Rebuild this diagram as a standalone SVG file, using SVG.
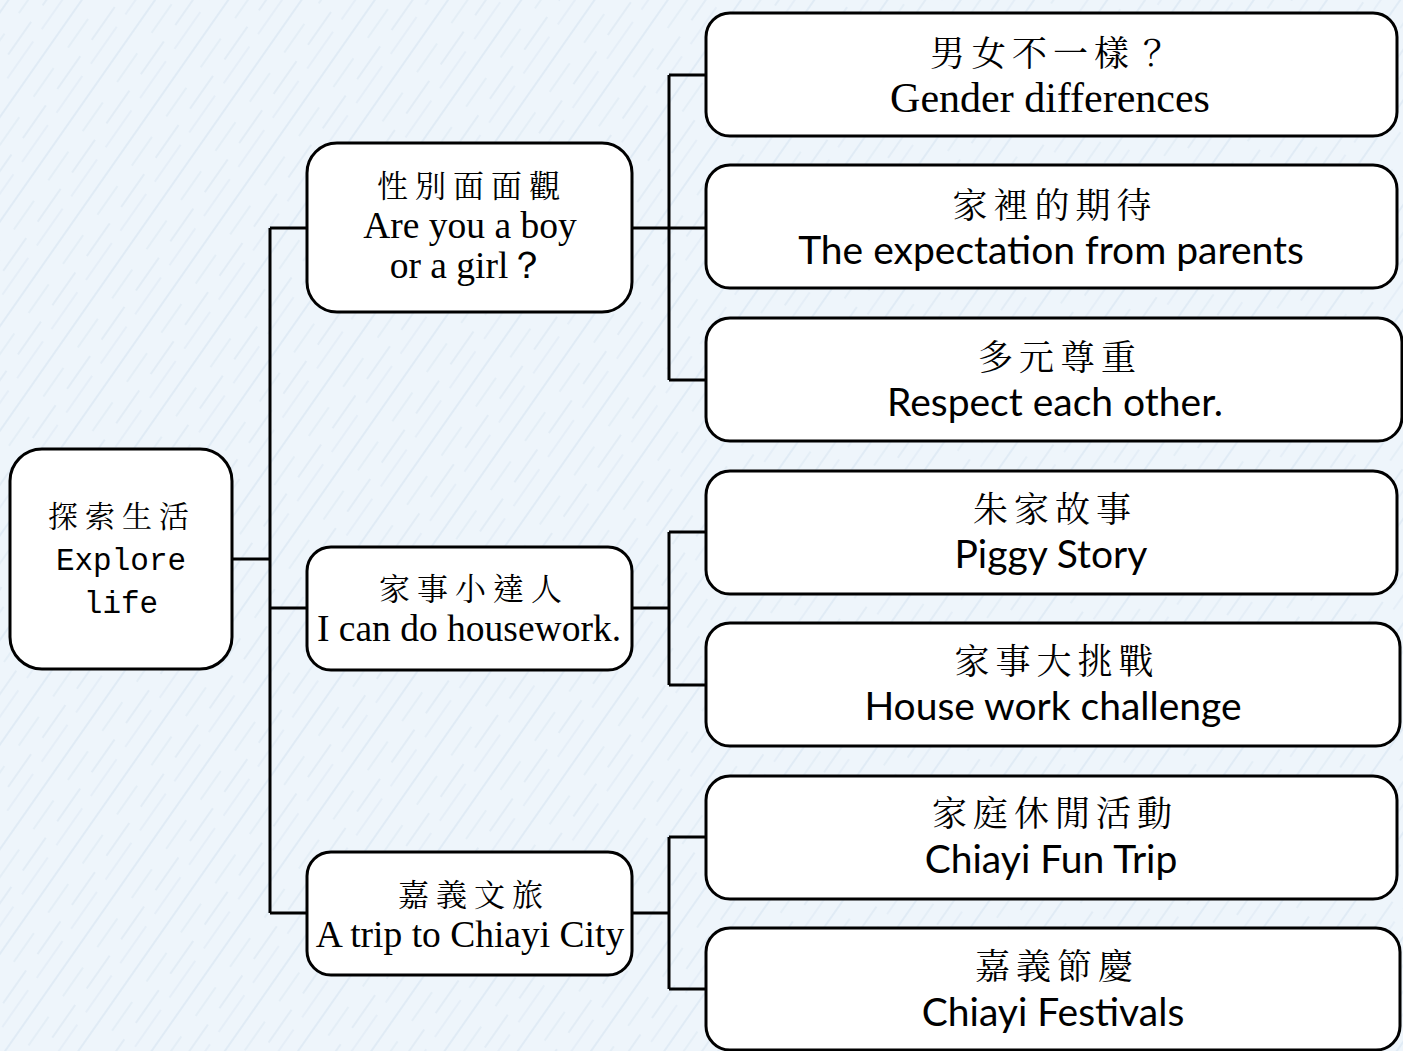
<svg xmlns="http://www.w3.org/2000/svg" width="1403" height="1051" viewBox="0 0 1403 1051">
<defs>
<pattern id="bgp" width="60" height="60" patternUnits="userSpaceOnUse" patternTransform="rotate(-55)">
<rect width="60" height="60" fill="#eef5fb"/>
<line x1="0" y1="7" x2="60" y2="7" stroke="#d3e2ef" stroke-width="1"/>
<line x1="0" y1="23" x2="35" y2="23" stroke="#dae7f2" stroke-width="1"/>
<line x1="20" y1="38" x2="60" y2="38" stroke="#d6e4f0" stroke-width="1"/>
<line x1="0" y1="51" x2="45" y2="51" stroke="#dce8f3" stroke-width="1"/>
</pattern>
<style>
.box{fill:#ffffff;stroke:#000;stroke-width:3}
.con{fill:none;stroke:#000;stroke-width:3}
.zh{font-family:"Noto Serif CJK TC","Noto Sans CJK TC",serif;fill:#000;text-anchor:middle}
.en{font-family:"Liberation Serif",serif;fill:#000;text-anchor:middle}
.sa{font-family:Lato,"Liberation Sans",sans-serif;fill:#000;text-anchor:middle}
.mo{font-family:"Liberation Mono",monospace;fill:#000;text-anchor:middle}
</style>
</defs>
<rect width="1403" height="1051" fill="url(#bgp)"/>
<g id="connectors">
<path class="con" d="M232 559 H270 M270 228 V913 M270 228 H307 M270 608 H307 M270 913 H307"/>
<path class="con" d="M632 228 H706 M669 75 V380 M669 75 H706 M669 380 H706"/>
<path class="con" d="M632 608 H669 M669 532 V685 M669 532 H706 M669 685 H706"/>
<path class="con" d="M632 913 H669 M669 837 V989 M669 837 H706 M669 989 H706"/>
</g>
<g id="root">
<rect class="box" x="10" y="449" width="222" height="220" rx="32"/>
<text class="zh" x="122" y="527" font-size="30" letter-spacing="7">探索生活</text>
<text class="mo" x="121" y="570" font-size="31">Explore</text>
<text class="mo" x="121" y="613" font-size="31">life</text>
</g>
<g id="mid1">
<rect class="box" x="307" y="143" width="325" height="169" rx="30"/>
<text class="zh" x="472" y="197" font-size="31" letter-spacing="7">性別面面觀</text>
<text class="en" x="470" y="238" font-size="37.5">Are you a boy</text>
<text class="en" x="468" y="278" font-size="37.5">or a girl？</text>
</g>
<g id="mid2">
<rect class="box" x="307" y="547" width="325" height="123" rx="24"/>
<text class="zh" x="474" y="600" font-size="31" letter-spacing="7">家事小達人</text>
<text class="en" x="469" y="641" font-size="37.5">I can do housework.</text>
</g>
<g id="mid3">
<rect class="box" x="307" y="852" width="325" height="123" rx="24"/>
<text class="zh" x="474" y="906" font-size="31" letter-spacing="7">嘉義文旅</text>
<text class="en" x="470" y="947" font-size="37.5">A trip to Chiayi City</text>
</g>
<g id="r1">
<rect class="box" x="706" y="13" width="691" height="123" rx="24"/>
<text class="zh" x="1053" y="66" font-size="35" letter-spacing="6">男女不一樣？</text>
<text class="en" x="1050" y="112" font-size="42">Gender differences</text>
</g>
<g id="r2">
<rect class="box" x="706" y="165" width="691" height="123" rx="24"/>
<text class="zh" x="1055" y="218" font-size="35" letter-spacing="6">家裡的期待</text>
<text class="sa" x="1051" y="264" font-size="39">The expectation from parents</text>
</g>
<g id="r3">
<rect class="box" x="706" y="318" width="696" height="123" rx="24"/>
<text class="zh" x="1060" y="370" font-size="35" letter-spacing="6">多元尊重</text>
<text class="sa" x="1055" y="416" font-size="39">Respect each other.</text>
</g>
<g id="r4">
<rect class="box" x="706" y="471" width="691" height="123" rx="24"/>
<text class="zh" x="1055" y="522" font-size="35" letter-spacing="6">朱家故事</text>
<text class="sa" x="1051" y="568" font-size="39">Piggy Story</text>
</g>
<g id="r5">
<rect class="box" x="706" y="623" width="694" height="123" rx="24"/>
<text class="zh" x="1057" y="674" font-size="35" letter-spacing="6">家事大挑戰</text>
<text class="sa" x="1053" y="720" font-size="39">House work challenge</text>
</g>
<g id="r6">
<rect class="box" x="706" y="776" width="691" height="123" rx="24"/>
<text class="zh" x="1055" y="826" font-size="35" letter-spacing="6">家庭休閒活動</text>
<text class="sa" x="1051" y="873" font-size="39">Chiayi Fun Trip</text>
</g>
<g id="r7">
<rect class="box" x="706" y="928" width="694" height="122" rx="24"/>
<text class="zh" x="1057" y="979" font-size="35" letter-spacing="6">嘉義節慶</text>
<text class="sa" x="1053" y="1026" font-size="39">Chiayi Festivals</text>
</g>
</svg>
